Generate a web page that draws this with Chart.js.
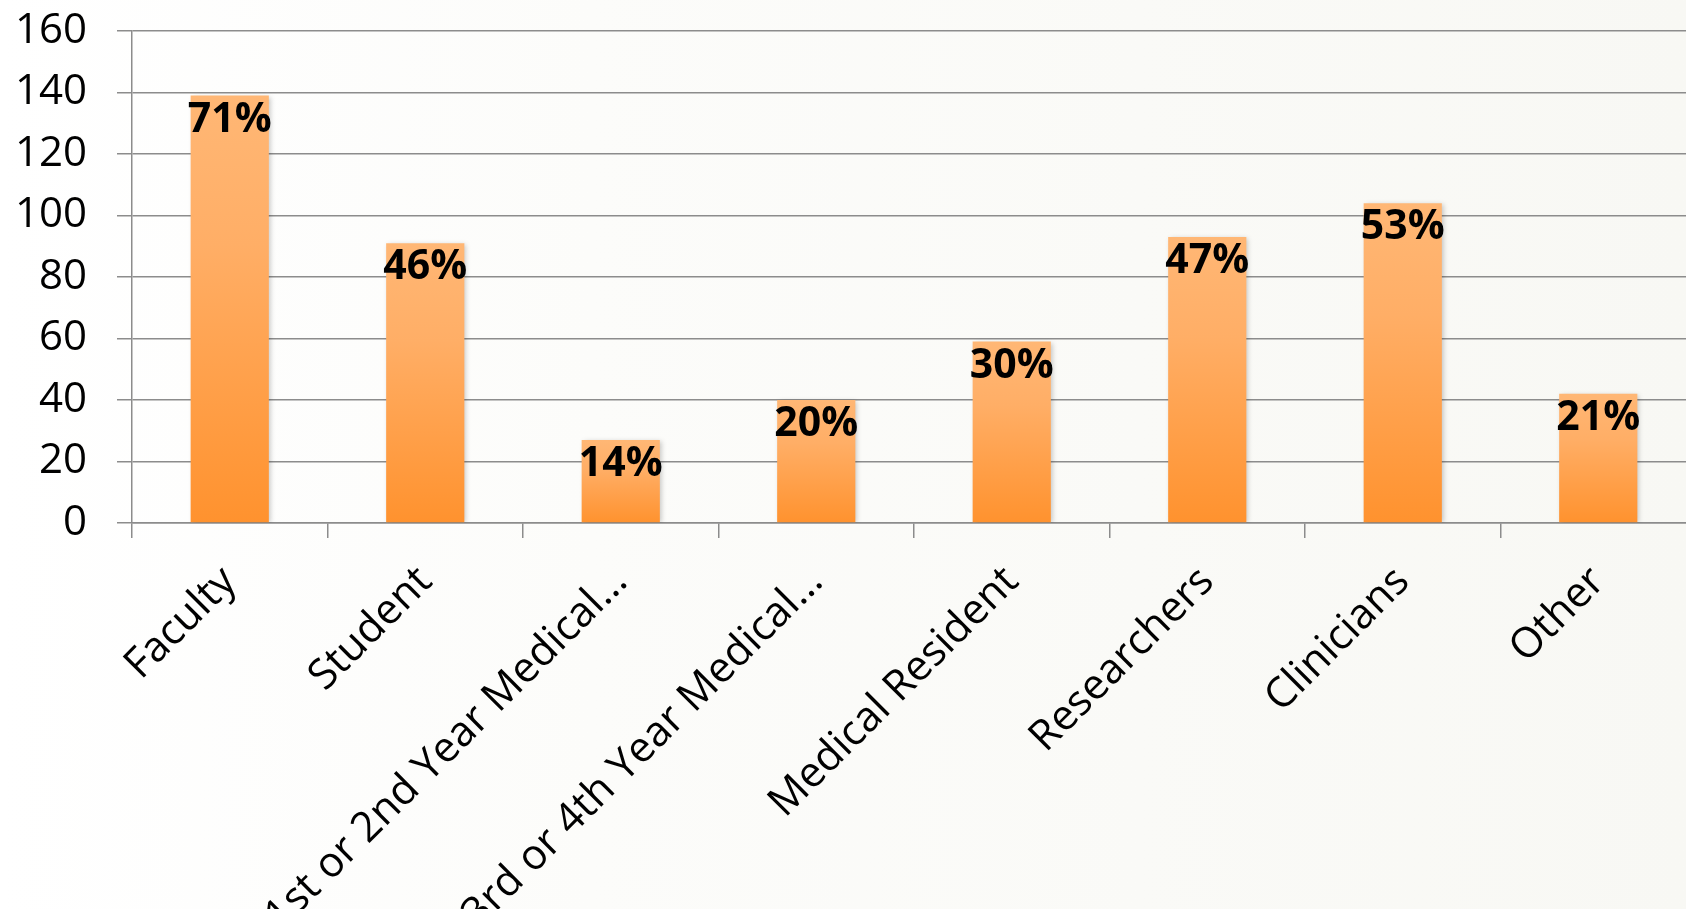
<!DOCTYPE html>
<html>
<head>
<meta charset="utf-8">
<script src="https://cdn.jsdelivr.net/npm/chart.js@4"></script>
<style>
  html, body { margin: 0; padding: 0; overflow: hidden; width: 1686px; height: 909px;
    background: linear-gradient(to right, #ffffff 0%, #fcfcfa 35%, #f8f8f4 100%); }
  #wrap { position: absolute; left: 0; top: 0; width: 1700px; height: 909px; }
</style>
</head>
<body>
<div id="wrap"><canvas id="c" width="1700" height="909"></canvas></div>
<script>
const categories = ["Faculty", "Student", "1st or 2nd Year Medical\u2026", "3rd or 4th Year Medical\u2026",
  "Medical Resident", "Researchers", "Clinicians", "Other"];
const counts = [139, 91, 27, 40, 59, 93, 104, 42];
const percentLabels = ["71%", "46%", "14%", "20%", "30%", "47%", "53%", "21%"];
const yTicks = [0, 20, 40, 60, 80, 100, 120, 140, 160];

const FONT = "'Open Sans', 'Noto Sans', sans-serif";
const GRID = '#8c8c8c';

function barGradient(ctx) {
  const chart = ctx.chart;
  if (!chart.chartArea || !chart.scales.y) return '#ffa24f';
  const y = chart.scales.y;
  const top = y.getPixelForValue(ctx.raw);
  const bottom = y.getPixelForValue(0);
  if (!isFinite(top) || !isFinite(bottom) || top === bottom) return '#ffa24f';
  const g = chart.ctx.createLinearGradient(0, top, 0, bottom);
  g.addColorStop(0, '#ffb775');
  g.addColorStop(0.35, '#ffae66');
  g.addColorStop(1, '#ff922e');
  return g;
}

const labelPlugin = {
  id: 'pctLabels',
  beforeDatasetDraw(chart) {
    const c = chart.ctx;
    c.save();
    c.shadowColor = 'rgba(0,0,0,0.22)';
    c.shadowBlur = 5;
    c.shadowOffsetX = 2;
    c.shadowOffsetY = 1;
  },
  afterDatasetDraw(chart) { chart.ctx.restore(); },
  afterDatasetsDraw(chart) {
    const c = chart.ctx;
    const meta = chart.getDatasetMeta(0);
    c.save();
    c.font = "bold 41px " + FONT;
    c.fillStyle = '#000000';
    c.textAlign = 'center';
    c.textBaseline = 'alphabetic';
    meta.data.forEach((bar, i) => {
      c.fillText(percentLabels[i], bar.x, bar.y + 36);
    });
    c.restore();
  }
};

new Chart(document.getElementById('c'), {
  type: 'bar',
  data: {
    labels: categories,
    datasets: [{
      data: counts,
      backgroundColor: barGradient,
      borderWidth: 0,
      barPercentage: 0.4,
      categoryPercentage: 1.0
    }]
  },
  options: {
    responsive: false,
    animation: false,
    devicePixelRatio: 1,
    layout: { padding: { left: 0, top: 31, right: 4, bottom: 0 } },
    plugins: { legend: { display: false }, tooltip: { enabled: false } },
    scales: {
      y: {
        min: 0, max: 160,
        afterBuildTicks(scale) { scale.ticks = yTicks.map(v => ({ value: v })); },
        afterFit(scale) { scale.width = 132; scale.paddingTop = 0; scale.paddingBottom = 0; },
        ticks: { color: '#000', font: { family: FONT, size: 42 }, padding: 30 },
        grid: { color: GRID, lineWidth: 1.5, tickLength: 15 },
        border: { color: GRID, width: 1.5 }
      },
      x: {
        afterFit(scale) { scale.height = 386; scale.paddingLeft = 0; scale.paddingRight = 0; },
        ticks: { color: '#000', font: { family: FONT, size: 42 }, maxRotation: 45, minRotation: 45,
          autoSkip: false, padding: 19 },
        grid: { drawOnChartArea: false, color: GRID, lineWidth: 1.5, tickLength: 15, offset: true },
        border: { color: GRID, width: 1.5 }
      }
    }
  },
  plugins: [labelPlugin]
});
</script>
</body>
</html>
